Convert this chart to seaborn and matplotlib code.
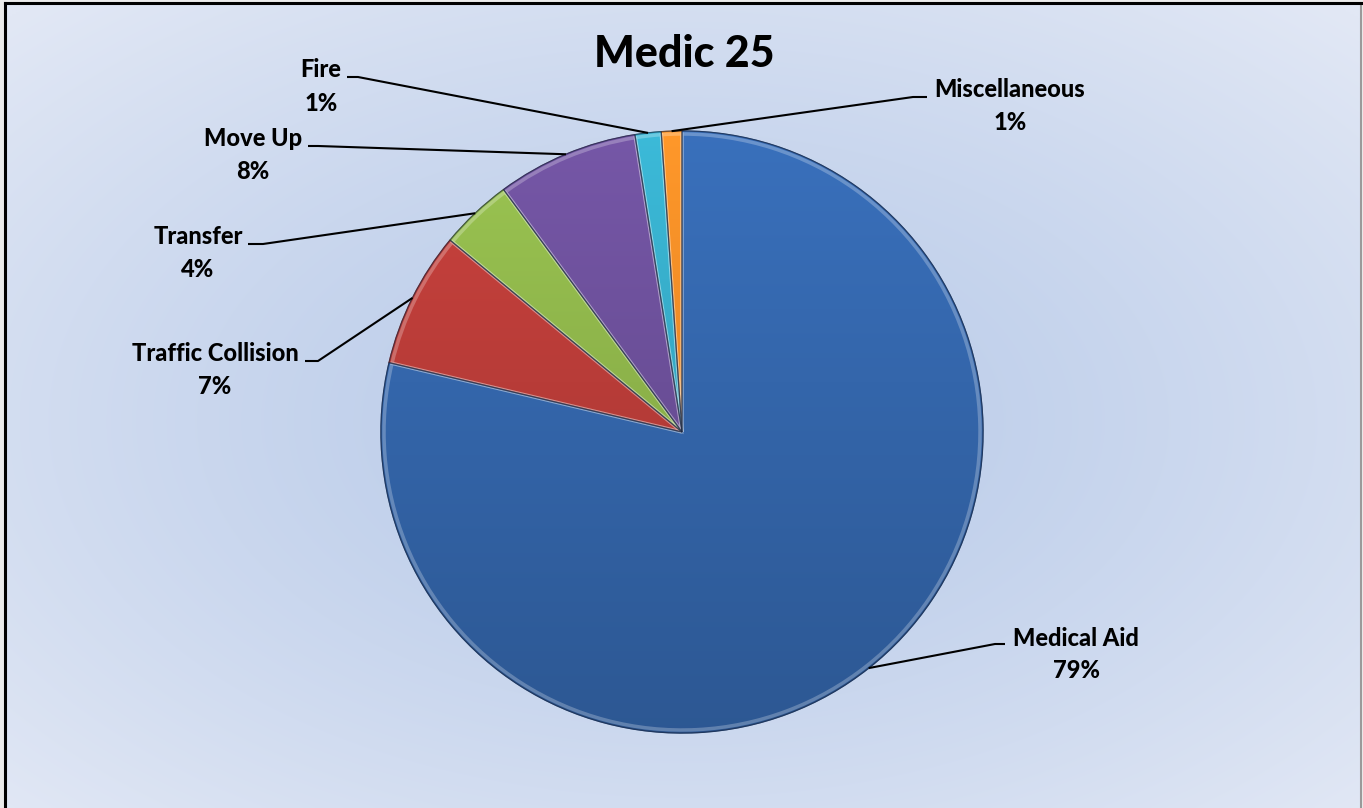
import numpy as np
import matplotlib
matplotlib.use('Agg')
import matplotlib.pyplot as plt
from matplotlib.colors import to_rgb
import seaborn as sns

# data
categories = ['Medical Aid', 'Traffic Collision', 'Transfer', 'Move Up', 'Fire', 'Miscellaneous']
shares = [78.7, 7.3, 3.9, 7.6, 1.4, 1.1]
slice_colors = ['#3466ab', '#b83c38', '#8db34a', '#6b4f98', '#36a9c5', '#f58a26']
chart_title = 'Medic 25'

W, H = 1363, 808
CX, CY, R = 682, 432, 301   # pie centre / radius in pixels (from top)

# label placement in pixels from top-left:
# name x, name baseline, pct baseline, stub x next to text, elbow x, stub y
label_pos = {
    'Medical Aid':       (1076, 646, 678, 1005, 995, 644),
    'Traffic Collision': (215, 361, 394, 305, 318, 361),
    'Transfer':          (198, 244, 277, 248, 263, 244),
    'Move Up':           (253, 146, 179, 308, 318, 146),
    'Fire':              (321, 77, 111, 347, 358, 77),
    'Miscellaneous':     (1010, 97, 130, 927, 913, 97),
}


def fy(y):
    # pixel y from top -> axes y
    return H - y


def shade(c, f):
    r, g, b = to_rgb(c)
    return tuple(min(1, v * f) for v in (r, g, b))


def draw_background(fig):
    ax_bg = fig.add_axes([5 / W, 0, (W - 7) / W, (H - 3) / H])
    yy, xx = np.mgrid[0:1:400j, 0:1:700j]
    d = np.sqrt(((xx - 0.5) / 0.5) ** 2 + ((yy - 0.52) / 0.5) ** 2) / np.sqrt(2)
    d = np.clip(d, 0, 1) ** 1.3
    c0 = np.array(to_rgb('#b9cbe9'))
    c1 = np.array(to_rgb('#e2e8f5'))
    img = c0[None, None, :] + (c1 - c0)[None, None, :] * d[:, :, None]
    ax_bg.imshow(img, aspect='auto', extent=[0, 1, 0, 1], interpolation='bilinear')
    ax_bg.set_xticks([])
    ax_bg.set_yticks([])
    for side in ['left', 'top']:
        ax_bg.spines[side].set_color('black')
        ax_bg.spines[side].set_linewidth(2.2)
    ax_bg.spines['right'].set_color('#9a9a9a')
    ax_bg.spines['right'].set_linewidth(1.5)
    ax_bg.spines['bottom'].set_visible(False)


def main():
    sns.set_style('white')
    plt.rcParams['font.family'] = ['Lato', 'DejaVu Sans']
    palette = sns.color_palette(slice_colors)

    fig = plt.figure(figsize=(W / 100, H / 100), dpi=100, facecolor='#ebebeb')
    draw_background(fig)

    ax = fig.add_axes([0, 0, 1, 1])
    ax.patch.set_alpha(0)
    wedges, _ = ax.pie(shares, colors=palette, startangle=90, counterclock=False,
                       center=(CX, fy(CY)), radius=R,
                       wedgeprops=dict(linewidth=1.0))

    # vertical shading inside each slice (lighter on top, darker below)
    t = np.linspace(0, 1, 200)[:, None]
    ext = [CX - R, CX + R, fy(CY) - R, fy(CY) + R]
    for w, c in zip(wedges, slice_colors):
        w.set_edgecolor(shade(c, 0.7))
        top = np.array(shade(c, 1.1))
        bot = np.array(shade(c, 0.86))
        grad = top[None, None, :] + (bot - top)[None, None, :] * t[:, :, None]
        grad = np.repeat(grad, 2, axis=1)
        im = ax.imshow(grad, extent=ext, origin='upper', aspect='auto',
                       interpolation='bilinear', zorder=w.get_zorder() + 0.1)
        im.set_clip_path(w)

    # soft bevel rim
    ax.pie(shares, colors=['none'] * len(shares), startangle=90, counterclock=False,
           center=(CX, fy(CY)), radius=R - 3,
           wedgeprops=dict(linewidth=2.5, edgecolor=(1, 1, 1, 0.25), fill=False, zorder=3))
    ax.pie(shares, colors=['none'] * len(shares), startangle=90, counterclock=False,
           center=(CX, fy(CY)), radius=R,
           wedgeprops=dict(linewidth=0.9, edgecolor=(0.1, 0.15, 0.25, 0.55), fill=False, zorder=3))

    ax.set_xlim(0, W)
    ax.set_ylim(0, H)
    ax.set_aspect('equal')
    ax.axis('off')

    for w, name, s in zip(wedges, categories, shares):
        nx, ny, py, sx, ex, sy = label_pos[name]
        mid = np.deg2rad((w.theta1 + w.theta2) / 2)
        px = CX + R * np.cos(mid)
        pyy = fy(CY) + R * np.sin(mid)
        ax.plot([px, ex, sx], [pyy, fy(sy), fy(sy)], color='black', lw=1.5,
                solid_capstyle='butt', zorder=5)
        ax.text(nx, fy(ny), name, ha='center', va='baseline', fontsize=17,
                fontweight='black', color='black', zorder=6)
        ax.text(nx, fy(py), f'{round(s):.0f}%', ha='center', va='baseline',
                fontsize=17, fontweight='black', color='black', zorder=6)

    ax.text(684, fy(67), chart_title, ha='center', va='baseline', fontsize=31,
            fontweight='black', color='black')

    fig.savefig('out.png', dpi=100, facecolor=fig.get_facecolor())


if __name__ == '__main__':
    main()
